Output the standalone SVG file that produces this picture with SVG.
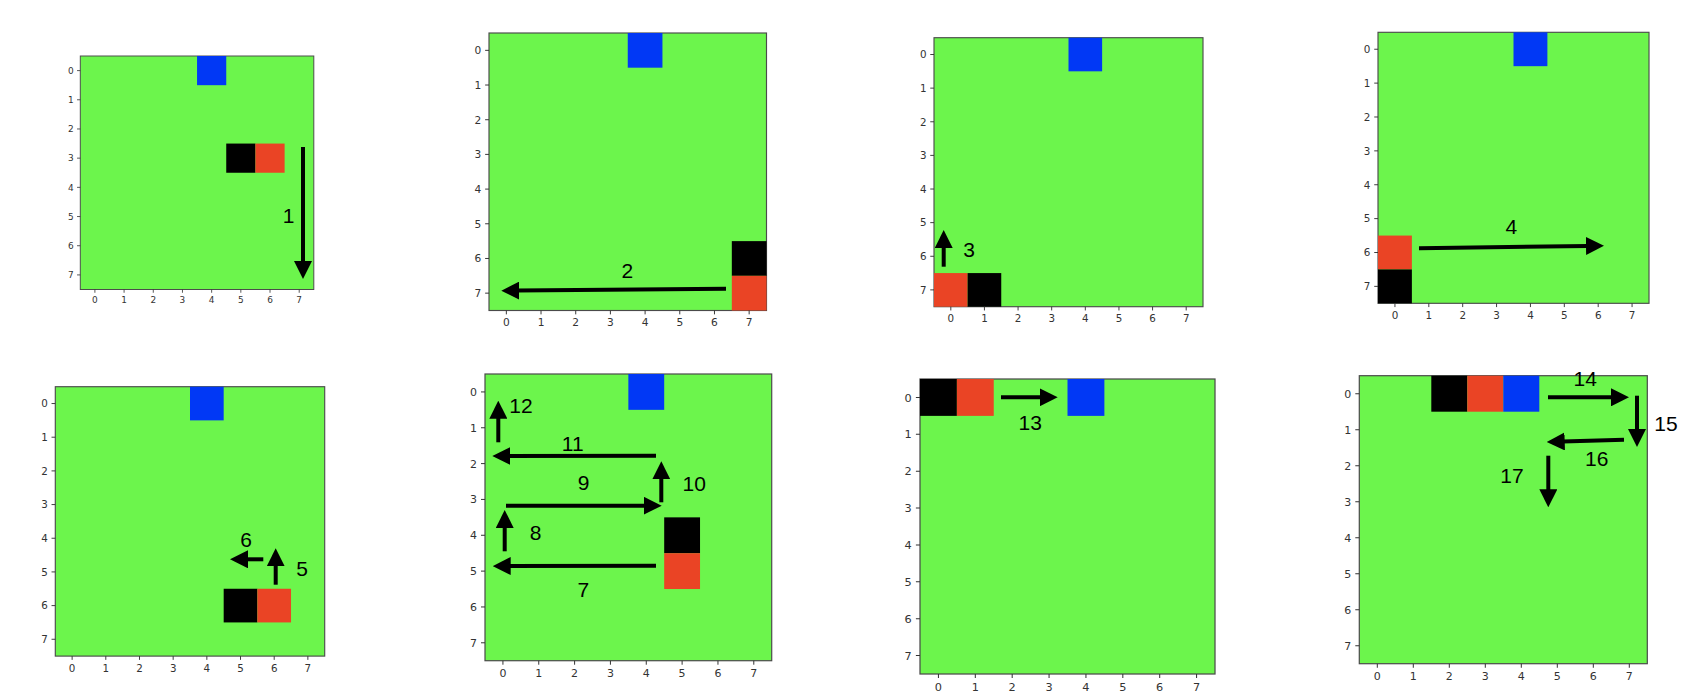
<svg xmlns="http://www.w3.org/2000/svg" xmlns:xlink="http://www.w3.org/1999/xlink" width="1700" height="698" viewBox="0 0 1700 698">
<style>
.frame{fill:#6cf54c;stroke:#4a4a4a;stroke-width:1.2}
.blue{fill:#0138f5}
.red{fill:#ea4425}
.blk{fill:#000}
.tk{font-family:"DejaVu Sans",sans-serif;font-size:11px;fill:#333}
.tx{text-anchor:middle}
.ty{text-anchor:end}
.arr{stroke:#000;stroke-width:4;fill:none;marker-end:url(#head)}
.lbl{font-family:"Liberation Sans",Arial,sans-serif;font-size:21px;fill:#000;text-anchor:middle}
</style>
<defs>
<marker id="head" viewBox="0 -9 18 18" refX="2" refY="0" markerWidth="18" markerHeight="18" markerUnits="userSpaceOnUse" orient="auto">
<path d="M0,-9 L18,0 L0,9 z" fill="#000"/>
</marker>
<path id="ticks" stroke="#333" stroke-width="1" fill="none" d="M17.94,287v4M53.81,287v4M89.69,287v4M125.56,287v4M161.44,287v4M197.31,287v4M233.19,287v4M269.06,287v4M0,17.94h-4M0,53.81h-4M0,89.69h-4M0,125.56h-4M0,161.44h-4M0,197.31h-4M0,233.19h-4M0,269.06h-4"/>
</defs>
<rect width="1700" height="698" fill="#fff"/>

<g id="panel1" transform="translate(80.3,56) scale(0.8136)">
<rect class="frame" x="0" y="0" width="287" height="287"/>
<rect class="blue" x="143.5" y="0" width="35.875" height="35.875"/>
<rect class="blk" x="179.375" y="107.625" width="35.875" height="35.875"/>
<rect class="red" x="215.25" y="107.625" width="35.875" height="35.875"/>
<use xlink:href="#ticks" href="#ticks"/>
<text class="tk tx" x="17.94" y="303.5">0</text><text class="tk tx" x="53.81" y="303.5">1</text><text class="tk tx" x="89.69" y="303.5">2</text><text class="tk tx" x="125.56" y="303.5">3</text><text class="tk tx" x="161.44" y="303.5">4</text><text class="tk tx" x="197.31" y="303.5">5</text><text class="tk tx" x="233.19" y="303.5">6</text><text class="tk tx" x="269.06" y="303.5">7</text>
<text class="tk ty" x="-8" y="21.94">0</text><text class="tk ty" x="-8" y="57.81">1</text><text class="tk ty" x="-8" y="93.69">2</text><text class="tk ty" x="-8" y="129.56">3</text><text class="tk ty" x="-8" y="165.44">4</text><text class="tk ty" x="-8" y="201.31">5</text><text class="tk ty" x="-8" y="237.19">6</text><text class="tk ty" x="-8" y="273.06">7</text>
</g>

<g id="panel2" transform="translate(489,33) scale(0.9669)">
<rect class="frame" x="0" y="0" width="287" height="287"/>
<rect class="blue" x="143.5" y="0" width="35.875" height="35.875"/>
<rect class="blk" x="251.125" y="215.25" width="35.875" height="35.875"/>
<rect class="red" x="251.125" y="251.125" width="35.875" height="35.875"/>
<use xlink:href="#ticks" href="#ticks"/>
<text class="tk tx" x="17.94" y="303.5">0</text><text class="tk tx" x="53.81" y="303.5">1</text><text class="tk tx" x="89.69" y="303.5">2</text><text class="tk tx" x="125.56" y="303.5">3</text><text class="tk tx" x="161.44" y="303.5">4</text><text class="tk tx" x="197.31" y="303.5">5</text><text class="tk tx" x="233.19" y="303.5">6</text><text class="tk tx" x="269.06" y="303.5">7</text>
<text class="tk ty" x="-8" y="21.94">0</text><text class="tk ty" x="-8" y="57.81">1</text><text class="tk ty" x="-8" y="93.69">2</text><text class="tk ty" x="-8" y="129.56">3</text><text class="tk ty" x="-8" y="165.44">4</text><text class="tk ty" x="-8" y="201.31">5</text><text class="tk ty" x="-8" y="237.19">6</text><text class="tk ty" x="-8" y="273.06">7</text>
</g>

<g id="panel3" transform="translate(934,37.7) scale(0.9373)">
<rect class="frame" x="0" y="0" width="287" height="287"/>
<rect class="blue" x="143.5" y="0" width="35.875" height="35.875"/>
<rect class="red" x="0" y="251.125" width="35.875" height="35.875"/>
<rect class="blk" x="35.875" y="251.125" width="35.875" height="35.875"/>
<use xlink:href="#ticks" href="#ticks"/>
<text class="tk tx" x="17.94" y="303.5">0</text><text class="tk tx" x="53.81" y="303.5">1</text><text class="tk tx" x="89.69" y="303.5">2</text><text class="tk tx" x="125.56" y="303.5">3</text><text class="tk tx" x="161.44" y="303.5">4</text><text class="tk tx" x="197.31" y="303.5">5</text><text class="tk tx" x="233.19" y="303.5">6</text><text class="tk tx" x="269.06" y="303.5">7</text>
<text class="tk ty" x="-8" y="21.94">0</text><text class="tk ty" x="-8" y="57.81">1</text><text class="tk ty" x="-8" y="93.69">2</text><text class="tk ty" x="-8" y="129.56">3</text><text class="tk ty" x="-8" y="165.44">4</text><text class="tk ty" x="-8" y="201.31">5</text><text class="tk ty" x="-8" y="237.19">6</text><text class="tk ty" x="-8" y="273.06">7</text>
</g>

<g id="panel4" transform="translate(1378,32.3) scale(0.9443)">
<rect class="frame" x="0" y="0" width="287" height="287"/>
<rect class="blue" x="143.5" y="0" width="35.875" height="35.875"/>
<rect class="red" x="0" y="215.25" width="35.875" height="35.875"/>
<rect class="blk" x="0" y="251.125" width="35.875" height="35.875"/>
<use xlink:href="#ticks" href="#ticks"/>
<text class="tk tx" x="17.94" y="303.5">0</text><text class="tk tx" x="53.81" y="303.5">1</text><text class="tk tx" x="89.69" y="303.5">2</text><text class="tk tx" x="125.56" y="303.5">3</text><text class="tk tx" x="161.44" y="303.5">4</text><text class="tk tx" x="197.31" y="303.5">5</text><text class="tk tx" x="233.19" y="303.5">6</text><text class="tk tx" x="269.06" y="303.5">7</text>
<text class="tk ty" x="-8" y="21.94">0</text><text class="tk ty" x="-8" y="57.81">1</text><text class="tk ty" x="-8" y="93.69">2</text><text class="tk ty" x="-8" y="129.56">3</text><text class="tk ty" x="-8" y="165.44">4</text><text class="tk ty" x="-8" y="201.31">5</text><text class="tk ty" x="-8" y="237.19">6</text><text class="tk ty" x="-8" y="273.06">7</text>
</g>

<g id="panel5" transform="translate(55.3,386.7) scale(0.9387)">
<rect class="frame" x="0" y="0" width="287" height="287"/>
<rect class="blue" x="143.5" y="0" width="35.875" height="35.875"/>
<rect class="blk" x="179.375" y="215.25" width="35.875" height="35.875"/>
<rect class="red" x="215.25" y="215.25" width="35.875" height="35.875"/>
<use xlink:href="#ticks" href="#ticks"/>
<text class="tk tx" x="17.94" y="303.5">0</text><text class="tk tx" x="53.81" y="303.5">1</text><text class="tk tx" x="89.69" y="303.5">2</text><text class="tk tx" x="125.56" y="303.5">3</text><text class="tk tx" x="161.44" y="303.5">4</text><text class="tk tx" x="197.31" y="303.5">5</text><text class="tk tx" x="233.19" y="303.5">6</text><text class="tk tx" x="269.06" y="303.5">7</text>
<text class="tk ty" x="-8" y="21.94">0</text><text class="tk ty" x="-8" y="57.81">1</text><text class="tk ty" x="-8" y="93.69">2</text><text class="tk ty" x="-8" y="129.56">3</text><text class="tk ty" x="-8" y="165.44">4</text><text class="tk ty" x="-8" y="201.31">5</text><text class="tk ty" x="-8" y="237.19">6</text><text class="tk ty" x="-8" y="273.06">7</text>
</g>

<g id="panel6" transform="translate(485,374) scale(0.999)">
<rect class="frame" x="0" y="0" width="287" height="287"/>
<rect class="blue" x="143.5" y="0" width="35.875" height="35.875"/>
<rect class="blk" x="179.375" y="143.5" width="35.875" height="35.875"/>
<rect class="red" x="179.375" y="179.375" width="35.875" height="35.875"/>
<use xlink:href="#ticks" href="#ticks"/>
<text class="tk tx" x="17.94" y="303.5">0</text><text class="tk tx" x="53.81" y="303.5">1</text><text class="tk tx" x="89.69" y="303.5">2</text><text class="tk tx" x="125.56" y="303.5">3</text><text class="tk tx" x="161.44" y="303.5">4</text><text class="tk tx" x="197.31" y="303.5">5</text><text class="tk tx" x="233.19" y="303.5">6</text><text class="tk tx" x="269.06" y="303.5">7</text>
<text class="tk ty" x="-8" y="21.94">0</text><text class="tk ty" x="-8" y="57.81">1</text><text class="tk ty" x="-8" y="93.69">2</text><text class="tk ty" x="-8" y="129.56">3</text><text class="tk ty" x="-8" y="165.44">4</text><text class="tk ty" x="-8" y="201.31">5</text><text class="tk ty" x="-8" y="237.19">6</text><text class="tk ty" x="-8" y="273.06">7</text>
</g>

<g id="panel7" transform="translate(920,379) scale(1.0279)">
<rect class="frame" x="0" y="0" width="287" height="287"/>
<rect class="blk" x="0" y="0" width="35.875" height="35.875"/>
<rect class="red" x="35.875" y="0" width="35.875" height="35.875"/>
<rect class="blue" x="143.5" y="0" width="35.875" height="35.875"/>
<use xlink:href="#ticks" href="#ticks"/>
<text class="tk tx" x="17.94" y="303.5">0</text><text class="tk tx" x="53.81" y="303.5">1</text><text class="tk tx" x="89.69" y="303.5">2</text><text class="tk tx" x="125.56" y="303.5">3</text><text class="tk tx" x="161.44" y="303.5">4</text><text class="tk tx" x="197.31" y="303.5">5</text><text class="tk tx" x="233.19" y="303.5">6</text><text class="tk tx" x="269.06" y="303.5">7</text>
<text class="tk ty" x="-8" y="21.94">0</text><text class="tk ty" x="-8" y="57.81">1</text><text class="tk ty" x="-8" y="93.69">2</text><text class="tk ty" x="-8" y="129.56">3</text><text class="tk ty" x="-8" y="165.44">4</text><text class="tk ty" x="-8" y="201.31">5</text><text class="tk ty" x="-8" y="237.19">6</text><text class="tk ty" x="-8" y="273.06">7</text>
</g>

<g id="panel8" transform="translate(1359.3,375.7) scale(1.0035)">
<rect class="frame" x="0" y="0" width="287" height="287"/>
<rect class="blk" x="71.75" y="0" width="35.875" height="35.875"/>
<rect class="red" x="107.625" y="0" width="35.875" height="35.875"/>
<rect class="blue" x="143.5" y="0" width="35.875" height="35.875"/>
<use xlink:href="#ticks" href="#ticks"/>
<text class="tk tx" x="17.94" y="303.5">0</text><text class="tk tx" x="53.81" y="303.5">1</text><text class="tk tx" x="89.69" y="303.5">2</text><text class="tk tx" x="125.56" y="303.5">3</text><text class="tk tx" x="161.44" y="303.5">4</text><text class="tk tx" x="197.31" y="303.5">5</text><text class="tk tx" x="233.19" y="303.5">6</text><text class="tk tx" x="269.06" y="303.5">7</text>
<text class="tk ty" x="-8" y="21.94">0</text><text class="tk ty" x="-8" y="57.81">1</text><text class="tk ty" x="-8" y="93.69">2</text><text class="tk ty" x="-8" y="129.56">3</text><text class="tk ty" x="-8" y="165.44">4</text><text class="tk ty" x="-8" y="201.31">5</text><text class="tk ty" x="-8" y="237.19">6</text><text class="tk ty" x="-8" y="273.06">7</text>
</g>

<g id="connectors">
<path class="arr" d="M303,147 L303,263"/>
<path class="arr" d="M726,288.7 L517.3,290.6"/>
<path class="arr" d="M943.7,266.7 L943.7,246"/>
<path class="arr" d="M1419,248.3 L1588,245.9"/>
<path class="arr" d="M275.7,584.7 L275.7,564.3"/>
<path class="arr" d="M263.3,559.3 L246,559.3"/>
<path class="arr" d="M656,565.7 L508.7,566"/>
<path class="arr" d="M504.7,551.3 L504.7,526"/>
<path class="arr" d="M506,505.7 L645.7,505.7"/>
<path class="arr" d="M661.3,502.3 L661.3,477.3"/>
<path class="arr" d="M656,455.7 L508.3,456"/>
<path class="arr" d="M498.3,442.3 L498.3,416.7"/>
<path class="arr" d="M1001,397.3 L1041.7,397.3"/>
<path class="arr" d="M1548,397.3 L1613,397.3"/>
<path class="arr" d="M1637,395.7 L1637,431"/>
<path class="arr" d="M1624,439.7 L1562.7,441.5"/>
<path class="arr" d="M1548.3,455.7 L1548.3,491.3"/>
</g>

<g id="labels">
<text class="lbl" x="288.7" y="222.5">1</text>
<text class="lbl" x="627.3" y="278.2">2</text>
<text class="lbl" x="969" y="256.8">3</text>
<text class="lbl" x="1511.3" y="233.5">4</text>
<text class="lbl" x="302" y="575.5">5</text>
<text class="lbl" x="246" y="546.5">6</text>
<text class="lbl" x="583.3" y="596.5">7</text>
<text class="lbl" x="535.7" y="539.8">8</text>
<text class="lbl" x="583.7" y="489.8">9</text>
<text class="lbl" x="694.3" y="490.5">10</text>
<text class="lbl" x="572.7" y="450.8">11</text>
<text class="lbl" x="521" y="413.2">12</text>
<text class="lbl" x="1030.3" y="429.8">13</text>
<text class="lbl" x="1585.3" y="385.8">14</text>
<text class="lbl" x="1666" y="430.5">15</text>
<text class="lbl" x="1596.7" y="465.5">16</text>
<text class="lbl" x="1512" y="482.5">17</text>
</g>
</svg>
